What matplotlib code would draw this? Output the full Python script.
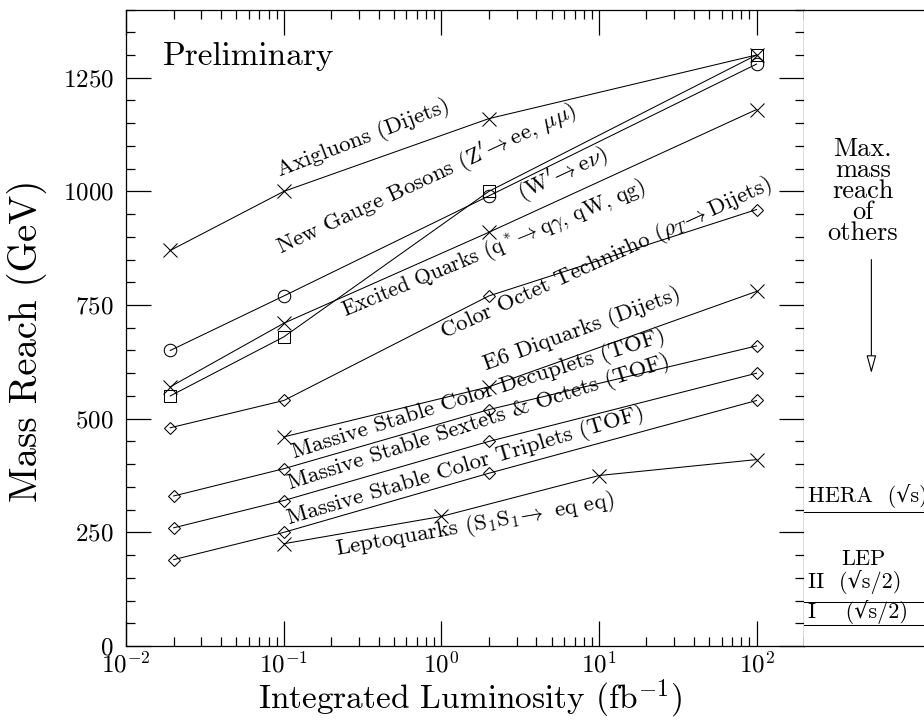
import matplotlib
matplotlib.use("Agg")
import matplotlib.pyplot as plt
from matplotlib.ticker import LogLocator, MultipleLocator, NullFormatter

plt.rcParams["font.family"] = ["cmr10", "DejaVu Serif"]
plt.rcParams["mathtext.fontset"] = "cm"
plt.rcParams["axes.formatter.use_mathtext"] = True
plt.rcParams["axes.unicode_minus"] = False

# Integrated luminosity points (fb^-1) and mass reach (GeV) for each channel
lumi_a = [0.019, 0.1, 2, 100]
lumi_b = [0.02, 0.1, 2, 100]
lumi_e6 = [0.1, 2, 100]
lumi_lq = [0.1, 1, 10, 100]

axigluons = [870, 1000, 1160, 1300]
zprime = [650, 770, 990, 1280]
wprime = [550, 680, 1000, 1300]
excited_q = [570, 710, 910, 1180]
technirho = [480, 540, 770, 960]
e6_diquarks = [460, 570, 780]
decuplets = [330, 390, 520, 660]
sextets_octets = [260, 320, 450, 600]
triplets = [190, 250, 380, 540]
leptoquarks = [225, 285, 375, 410]

# Reach of other machines (GeV)
hera_reach = 295
lep2_reach = 96
lep1_reach = 45.5

fig = plt.figure(figsize=(9.24, 7.21), dpi=100)
W, H = 924.0, 721.0
x0, x1, yb, yt = 126.3, 804.0, 646.0, 9.5
ax = fig.add_axes([x0 / W, (H - yb) / H, (x1 - x0) / W, (yb - yt) / H])
axr = fig.add_axes([x1 / W, (H - yb) / H, (1010 - x1) / W, (yb - yt) / H])

lw = 0.75
series = [
    (lumi_a, axigluons, "x", 10),
    (lumi_a, zprime, "o", 9),
    (lumi_a, wprime, "s", 8),
    (lumi_a, excited_q, "x", 10),
    (lumi_a, technirho, "D", 6),
    (lumi_e6, e6_diquarks, "x", 10),
    (lumi_b, decuplets, "D", 6),
    (lumi_b, sextets_octets, "D", 6),
    (lumi_b, triplets, "D", 6),
    (lumi_lq, leptoquarks, "x", 10),
]
for xs, ys, m, ms in series:
    ax.plot(xs, ys, color="black", lw=lw, marker=m, ms=ms, mfc="none",
            mec="black", mew=lw)

ax.set_xscale("log")
ax.set_xlim(0.01, 200)
ax.set_ylim(0, 1400)

ax.xaxis.set_major_locator(LogLocator(base=10, numticks=10))
ax.xaxis.set_minor_locator(LogLocator(base=10, subs=range(2, 10), numticks=10))
ax.xaxis.set_minor_formatter(NullFormatter())
ax.yaxis.set_major_locator(MultipleLocator(250))
ax.yaxis.set_minor_locator(MultipleLocator(50))
ax.tick_params(which="both", direction="in", top=True, right=True, width=0.9,
               labelsize=18)
ax.tick_params(which="major", length=18)
ax.tick_params(which="minor", length=6.5)
ax.tick_params(axis="y", pad=9)
ax.tick_params(axis="x", pad=4)
for s in ax.spines.values():
    s.set_linewidth(0.9)

ax.set_ylabel("Mass Reach (GeV)", fontsize=28, va="center")
ax.yaxis.set_label_coords(-0.1465, 0.48)
ax.set_xlabel(r"Integrated Luminosity (fb$^{-1}$)", fontsize=24, va="center")
ax.xaxis.set_label_coords(0.507, -0.083)

ax.text(0.0171, 1279, "Preliminary", fontsize=24, ha="left", va="baseline")

labels = [
    (0.331, 1105, "Axigluons (Dijets)", 21, 16.5),
    (0.843, 1014, r"New Gauge Bosons (Z$'\!\rightarrow$ee, $\mu\mu$)", 25, 16.5),
    (6.14, 1025, r"(W$'\!\rightarrow$e$\nu$)", 25, 16.5),
    (2.21, 862, r"Excited Quarks (q$^*\!\rightarrow$q$\gamma$, qW, qg)", 22.5, 15.5),
    (11.5, 840, r"Color Octet Technirho ($\rho_T\!\rightarrow$Dijets)", 24.5, 16.5),
    (7.98, 684, "E6 Diquarks (Dijets)", 20, 16.5),
    (1.77, 543, "Massive Stable Color Decuplets (TOF)", 17.5, 16.5),
    (1.77, 480, "Massive Stable Sextets & Octets (TOF)", 17.9, 16.5),
    (1.47, 385, "Massive Stable Color Triplets (TOF)", 16.6, 16.5),
    (1.65, 255, r"Leptoquarks (S$_1$S$_1\!\rightarrow$ eq eq)", 10, 16.5),
]
for x, y, s, rot, fs in labels:
    ax.text(x, y, s, fontsize=fs, rotation=rot, rotation_mode="anchor",
            ha="center", va="baseline")

# Side panel: reach of other machines
axr.set_xlim(0, 1)
axr.set_ylim(0, 1400)
axr.set_xticks([])
axr.set_yticks([])
axr.spines["right"].set_visible(False)
axr.spines["left"].set_visible(False)
for s in ("top", "bottom"):
    axr.spines[s].set_linewidth(0.9)

for yv in (hera_reach, lep2_reach, lep1_reach):
    axr.axhline(yv, color="black", lw=lw)

side_fs = 16
axr.text(0.02, hera_reach + 8, "HERA  (√s)", fontsize=side_fs,
         ha="left", va="bottom")
axr.text(0.29, 190, "LEP", fontsize=side_fs, ha="center", va="center")
axr.text(0.02, 141, "II  (√s/2)", fontsize=side_fs, ha="left",
         va="center")
axr.text(0.02, 74, "I    (√s/2)", fontsize=side_fs, ha="left",
         va="center")

axr.text(0.285, 1000, "Max.\nmass\nreach\nof\nothers", fontsize=19,
         ha="center", va="center", linespacing=0.85)
axr.annotate("", xy=(0.327, 600), xytext=(0.327, 850),
             arrowprops=dict(arrowstyle="-|>,head_length=1.1,head_width=0.3",
                             fc="white", ec="black", lw=0.8,
                             shrinkA=0, shrinkB=0))

fig.savefig("out.png", dpi=100)
